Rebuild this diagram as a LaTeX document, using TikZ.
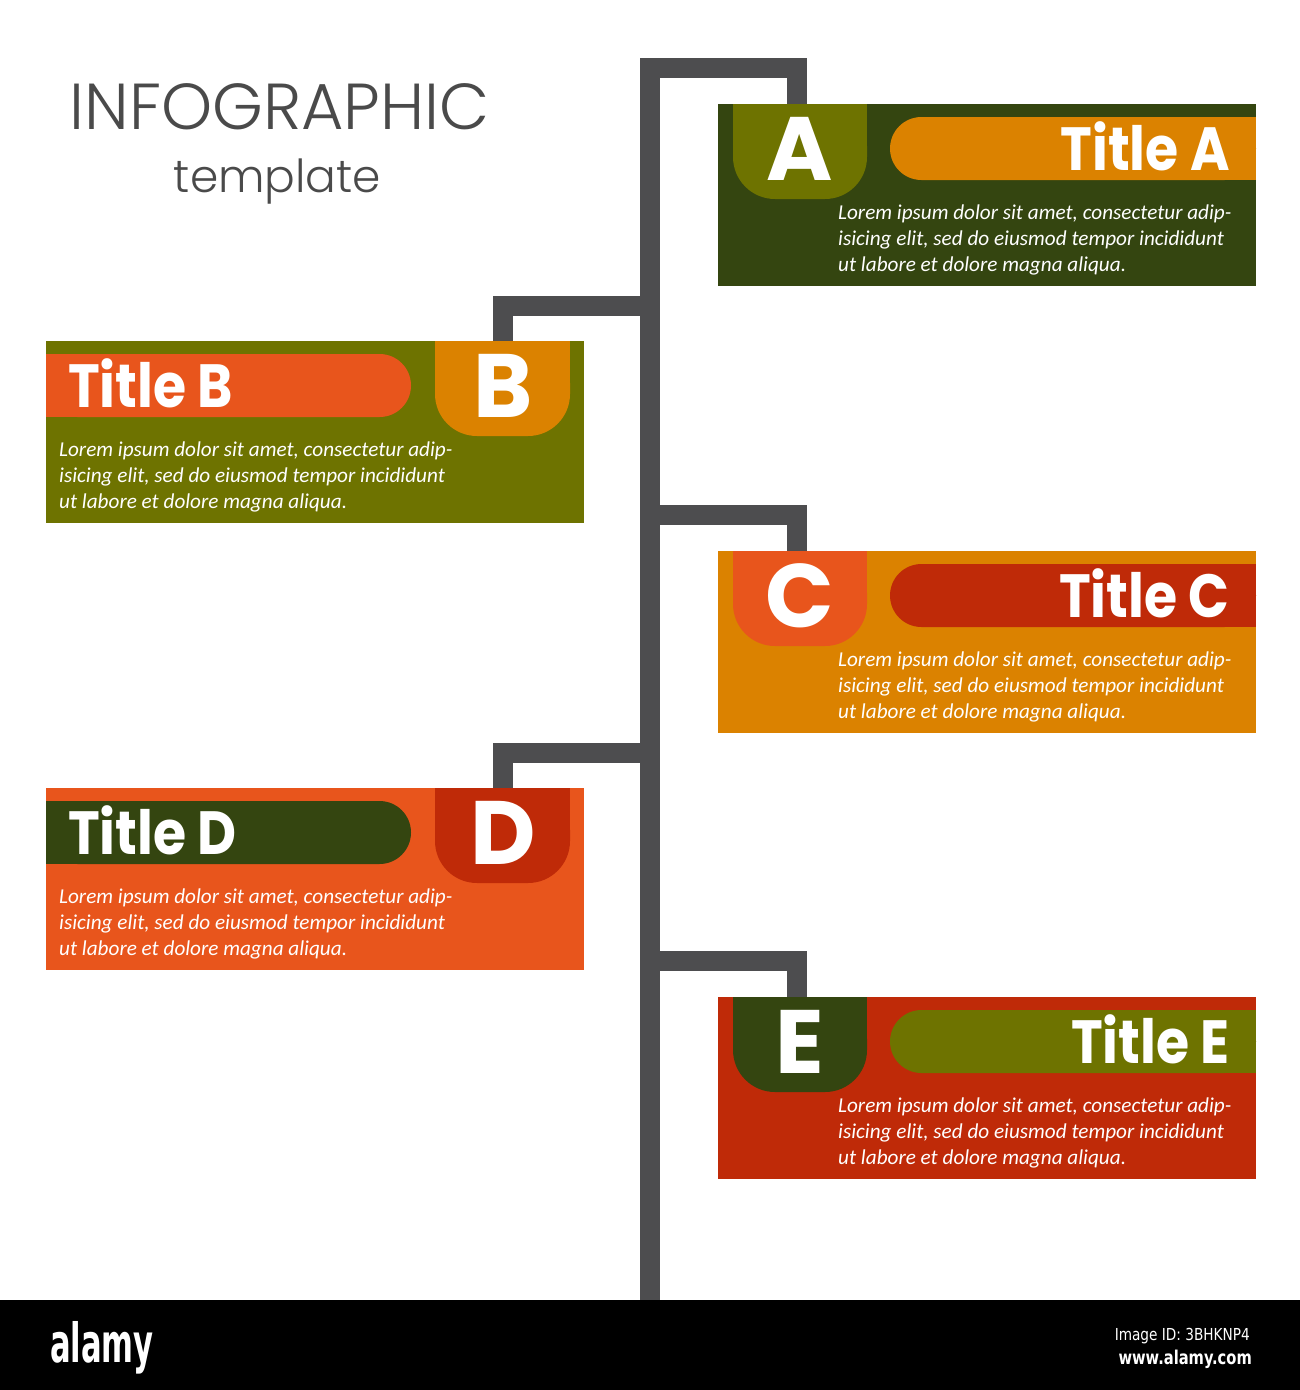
\documentclass[tikz,border=0pt]{standalone}
\usepackage{fontspec}
\IfFontExistsTF{Poppins Light}{\newfontfamily\lightfont{Poppins Light}}{\newfontfamily\lightfont{Poppins}}
\IfFontExistsTF{Poppins Bold}{\newfontfamily\boldfont{Poppins Bold}}{\newfontfamily\boldfont{Liberation Sans Bold}}
\newfontfamily\bodyfont{Carlito}
\IfFontExistsTF{DejaVu Sans Condensed}{\newfontfamily\condfont{DejaVu Sans Condensed}}{\newfontfamily\condfont{DejaVu Sans}}
\IfFontExistsTF{DejaVu Sans Condensed Bold}{\newfontfamily\condbold{DejaVu Sans Condensed Bold}}{\newfontfamily\condbold{DejaVu Sans Bold}}
\definecolor{dgreen}{RGB}{52,69,16}
\definecolor{olive}{RGB}{110,115,0}
\definecolor{amber}{RGB}{219,130,0}
\definecolor{ored}{RGB}{232,85,28}
\definecolor{dred}{RGB}{191,42,8}
\definecolor{trunkgrey}{RGB}{77,77,79}
\definecolor{headgrey}{RGB}{74,74,74}
\newcommand{\bodylines}[2]{%
  \node[body] (#1-l1) at ([xshift=#2pt,yshift=-115pt]#1.north west) {Lorem ipsum dolor sit amet, consectetur adip-};
  \node[body] (#1-l2) at ([xshift=#2pt,yshift=-141pt]#1.north west) {isicing elit, sed do eiusmod tempor incididunt};
  \node[body] (#1-l3) at ([xshift=#2pt,yshift=-167pt]#1.north west) {ut labore et dolore magna aliqua.};
}
\newcommand{\ttl}[1]{\scalebox{0.88}[1]{#1}}
% right panel: name, top y, panel colour, badge colour, bar colour, letter, title
\newcommand{\rpanel}[7]{%
  \node[panel, fill=#3] (#1) at (718,#2) {};
  \fill[#4, rounded corners=42pt] ([xshift=15pt]#1.north west) rectangle ([xshift=149pt,yshift=-95pt]#1.north west);
  \fill[#4] ([xshift=15pt]#1.north west) rectangle ([xshift=149pt,yshift=-50pt]#1.north west);
  \fill[#5, rounded corners=31.5pt] ([xshift=172pt,yshift=-13pt]#1.north west) rectangle ([yshift=-76pt]#1.north east);
  \fill[#5] ([xshift=260pt,yshift=-13pt]#1.north west) rectangle ([yshift=-76pt]#1.north east);
  \node[letter] (#1-let) at ([xshift=82pt,yshift=-45pt]#1.north west) {#6};
  \node[titletext, anchor=base east] (#1-tit) at ([xshift=-26pt,yshift=-66pt]#1.north east) {\ttl{#7}};
  \bodylines{#1}{120}
}
\newcommand{\lpanel}[7]{%
  \node[panel, fill=#3] (#1) at (46,#2) {};
  \fill[#4, rounded corners=42pt] ([xshift=389pt]#1.north west) rectangle ([xshift=524pt,yshift=-95pt]#1.north west);
  \fill[#4] ([xshift=389pt]#1.north west) rectangle ([xshift=524pt,yshift=-50pt]#1.north west);
  \fill[#5, rounded corners=31.5pt] ([yshift=-13pt]#1.north west) rectangle ([xshift=365pt,yshift=-76pt]#1.north west);
  \fill[#5] ([yshift=-13pt]#1.north west) rectangle ([xshift=280pt,yshift=-76pt]#1.north west);
  \node[letter] (#1-let) at ([xshift=457pt,yshift=-45pt]#1.north west) {#6};
  \node[titletext, anchor=base west] (#1-tit) at ([xshift=22pt,yshift=-66pt]#1.north west) {\ttl{#7}};
  \bodylines{#1}{13}
}
\begin{document}
\begin{tikzpicture}[x=1pt,y=-1pt,
  trunk/.style={draw=trunkgrey, line width=20pt, line join=miter},
  panel/.style={anchor=north west, minimum width=538pt, minimum height=182pt, inner sep=0pt, outer sep=0pt},
  letter/.style={text=white, font=\boldfont\fontsize{90}{90}\selectfont, inner sep=0pt},
  titletext/.style={text=white, font=\boldfont\fontsize{61}{61}\selectfont, inner sep=0pt},
  body/.style={text=white, font=\bodyfont\itshape\fontsize{21.2}{26}\selectfont, inner sep=0pt, anchor=base west},
  head/.style={text=headgrey, inner sep=0pt, anchor=base},
  wm/.style={text=white, inner sep=0pt}]
\useasboundingbox (0,0) rectangle (1300,1390);
\fill[white] (0,0) rectangle (1300,1390);
% header
\node[head, font=\lightfont\fontsize{65}{65}\selectfont] (h1) at (279.5,129.5) {INFOGRAPHIC};
\node[head, font=\lightfont\fontsize{45.5}{45.5}\selectfont] (h2) at (277.5,192) {template};
% panels
\rpanel{pA}{104}{dgreen}{olive}{amber}{A}{Title A}
\lpanel{pB}{341}{olive}{amber}{ored}{B}{Title B}
\rpanel{pC}{551}{amber}{ored}{dred}{C}{Title C}
\lpanel{pD}{788}{ored}{dred}{dgreen}{D}{Title D}
\rpanel{pE}{997}{dred}{dgreen}{olive}{E}{Title E}
% trunk and connectors
\coordinate (ttop) at (649.5,68);
\coordinate (tbot) at (649.5,1300);
\coordinate (tB) at (649.5,306);
\coordinate (tC) at (649.5,515);
\coordinate (tD) at (649.5,753);
\coordinate (tE) at (649.5,961);
\draw[trunk] (tbot) -- (ttop) -| ([xshift=78.5pt]pA.north west);
\draw[trunk] (tB) -| ([xshift=457pt]pB.north west);
\draw[trunk] (tC) -| ([xshift=78.5pt]pC.north west);
\draw[trunk] (tD) -| ([xshift=457pt]pD.north west);
\draw[trunk] (tE) -| ([xshift=78.5pt]pE.north west);
% bottom bar
\fill[black] (0,1300) rectangle (1300,1390);
\node[wm, anchor=base west, font=\condbold\fontsize{54}{54}\selectfont] (logo) at (50,1362) {\scalebox{0.63}[1]{alamy}};
\node[wm, anchor=base east, font=\condfont\fontsize{16.5}{16.5}\selectfont] (iid) at (1250,1340) {\scalebox{0.92}[1]{Image ID: 3BHKNP4}};
\node[wm, anchor=base east, font=\condbold\fontsize{19}{19}\selectfont] (url) at (1252,1364) {\scalebox{0.86}[1]{www.alamy.com}};
\end{tikzpicture}
\end{document}
